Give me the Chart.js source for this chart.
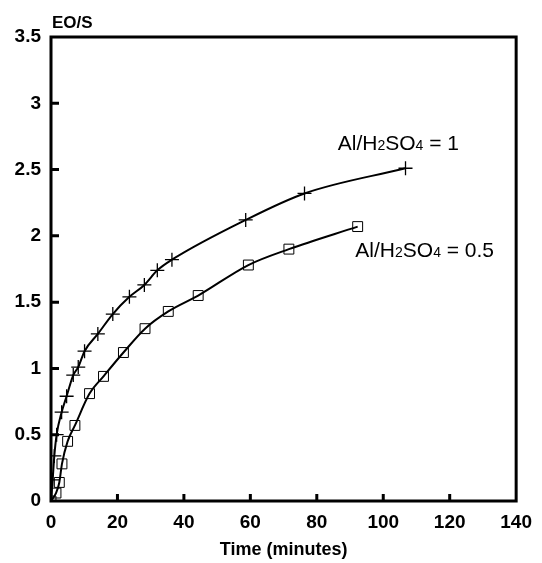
<!DOCTYPE html>
<html>
<head>
<meta charset="utf-8">
<script src="https://cdn.jsdelivr.net/npm/chart.js@4/dist/chart.umd.min.js"></script>
<style>
  html, body { margin: 0; padding: 0; background: #fff; }
  #wrap { width: 542px; height: 563px; position: relative; }
</style>
</head>
<body>
<div id="wrap"><canvas id="c"></canvas></div>
<script>
'use strict';

// ── data ──
// Al/H2SO4 = 1  (plus markers)
const timeR1 = [0, 0.5, 1, 1.7, 3.2, 4.7, 6.7, 8.2, 10.1, 14.1, 18.6, 23.6, 28.1, 32, 36.4, 58.6, 76.3, 106.7];
const eosR1  = [0, 0.16, 0.34, 0.5, 0.67, 0.79, 0.95, 1.01, 1.13, 1.26, 1.41, 1.54, 1.63, 1.74, 1.82, 2.12, 2.32, 2.51];
// Al/H2SO4 = 0.5  (square markers)
const timeR05 = [0, 1.5, 2.5, 3.3, 5, 7.2, 11.6, 15.8, 21.8, 28.3, 35.3, 44.3, 59.4, 71.6, 92.3];
const eosR05  = [0, 0.06, 0.14, 0.28, 0.45, 0.57, 0.81, 0.94, 1.12, 1.30, 1.43, 1.55, 1.78, 1.90, 2.07];

const seriesLabels = ['1', '0.5'];
// where the curve labels sit, in data units (time, EO/S)
const labelPosX = [86.3, 91.6];
const labelPosY = [2.70, 1.89];

const FONT = '"Liberation Sans", Arial, sans-serif';

const pts = (xs, ys) => xs.map((x, i) => ({ x: x, y: ys[i] }));

// frame, inward ticks, y title and curve labels
const decor = {
  id: 'decor',
  afterDraw(chart) {
    const { ctx, chartArea: a, scales: { x, y } } = chart;
    ctx.save();
    ctx.strokeStyle = '#000';
    ctx.lineWidth = 3;
    ctx.strokeRect(a.left, a.top, a.right - a.left, a.bottom - a.top);

    // inward tick marks
    ctx.beginPath();
    y.ticks.forEach(t => {
      if (t.value <= y.min || t.value >= y.max) return;
      const py = y.getPixelForValue(t.value);
      ctx.moveTo(a.left, py); ctx.lineTo(a.left + 8, py);
    });
    x.ticks.forEach(t => {
      if (t.value <= x.min || t.value >= x.max) return;
      const px = x.getPixelForValue(t.value);
      ctx.moveTo(px, a.bottom); ctx.lineTo(px, a.bottom - 7);
    });
    ctx.stroke();

    // y axis title above the axis
    ctx.fillStyle = '#000';
    ctx.font = 'bold 17px ' + FONT;
    ctx.textBaseline = 'alphabetic';
    ctx.textAlign = 'left';
    ctx.fillText('EO/S', a.left + 1, a.top - 9);

    // curve labels with subscripts
    seriesLabels.forEach((val, i) => {
      let px = x.getPixelForValue(labelPosX[i]);
      const base = y.getPixelForValue(labelPosY[i]) + 7;
      const parts = [['Al/H', 21], ['2', 14], ['SO', 21], ['4', 14], [' = ' + val, 21]];
      parts.forEach(([txt, size]) => {
        ctx.font = size + 'px ' + FONT;
        ctx.fillText(txt, px, base);
        px += ctx.measureText(txt).width;
      });
    });
    ctx.restore();
  }
};

const tickFont = { family: FONT, size: 19, weight: 'bold' };

new Chart(document.getElementById('c'), {
  type: 'scatter',
  data: {
    datasets: [
      {
        label: 'Al/H2SO4 = 1',
        data: pts(timeR1, eosR1),
        showLine: true,
        borderColor: '#000',
        borderWidth: 2,
        cubicInterpolationMode: 'monotone',
        pointStyle: 'cross',
        pointRadius: 7,
        pointBorderWidth: 1.3,
        pointBorderColor: '#000',
        pointBackgroundColor: 'transparent'
      },
      {
        label: 'Al/H2SO4 = 0.5',
        data: pts(timeR05, eosR05),
        showLine: true,
        borderColor: '#000',
        borderWidth: 2,
        cubicInterpolationMode: 'monotone',
        pointStyle: 'rect',
        pointRadius: 7,
        pointBorderWidth: 1,
        pointBorderColor: '#000',
        pointBackgroundColor: 'transparent'
      }
    ]
  },
  options: {
    responsive: true,
    maintainAspectRatio: false,
    animation: false,
    layout: { padding: { top: 37, right: 21, left: 0, bottom: 0 } },
    plugins: { legend: { display: false }, tooltip: { enabled: false } },
    scales: {
      x: {
        type: 'linear', min: 0, max: 140,
        grid: { display: false, drawTicks: false },
        border: { display: false },
        ticks: { stepSize: 20, color: '#000', font: tickFont, padding: 10, maxRotation: 0 },
        title: { display: true, text: 'Time (minutes)', color: '#000',
                 font: { family: FONT, size: 18, weight: 'bold' }, padding: { top: 0, bottom: 2 } },
        afterFit(s) { s.height = 62; }
      },
      y: {
        type: 'linear', min: 0, max: 3.5,
        grid: { display: false, drawTicks: false },
        border: { display: false },
        ticks: { stepSize: 0.5, color: '#000', font: tickFont, padding: 10,
                 callback: v => String(v) },
        afterFit(s) { s.width = 51; }
      }
    }
  },
  plugins: [decor]
});
</script>
</body>
</html>
